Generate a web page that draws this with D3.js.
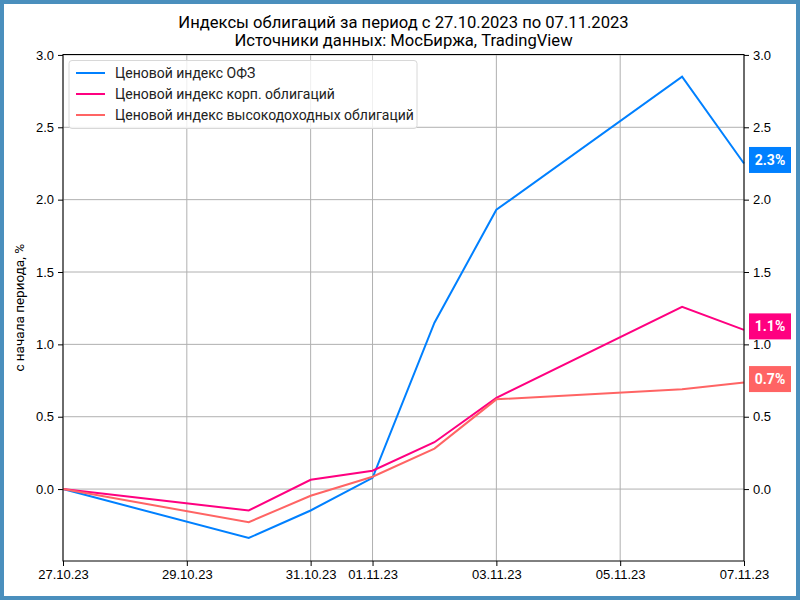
<!DOCTYPE html>
<html>
<head>
<meta charset="utf-8">
<script src="https://cdn.jsdelivr.net/npm/d3@7"></script>
<style>
  html, body { margin: 0; padding: 0; background: #fff; }
  svg { display: block; font-family: Roboto, "DejaVu Sans", sans-serif; }
</style>
</head>
<body>
<div id="chart"></div>
<script>
// trading days in the period
const dates = ["2023-10-27", "2023-10-30", "2023-10-31", "2023-11-01", "2023-11-02", "2023-11-03", "2023-11-06", "2023-11-07"]
const ofz = [0, -0.338, -0.148, 0.078, 1.15, 1.93, 2.85, 2.25]
const corp = [0, -0.148, 0.064, 0.127, 0.324, 0.63, 1.26, 1.10]
const highYield = [0, -0.229, -0.046, 0.085, 0.28, 0.62, 0.69, 0.736]
const seriesNames = ["Ценовой индекс ОФЗ", "Ценовой индекс корп. облигаций", "Ценовой индекс высокодоходных облигаций"]
const seriesColors = ["#0080ff", "#ff0080", "#ff6464"]
const xTicks = ["2023-10-27", "2023-10-29", "2023-10-31", "2023-11-01", "2023-11-03", "2023-11-05", "2023-11-07"]
const yTicks = [0, 0.5, 1.0, 1.5, 2.0, 2.5, 3.0]

const W = 800, H = 600
const margin = { top: 54.5, right: 56, bottom: 39, left: 63 }
const width = W - margin.left - margin.right
const height = H - margin.top - margin.bottom

const parse = d3.timeParse("%Y-%m-%d")
const fmt = d3.timeFormat("%d.%m.%y")

const svg = d3.select("#chart").append("svg")
    .attr("width", W)
    .attr("height", H)

svg.append("rect")
    .attr("x", 2).attr("y", 2)
    .attr("width", W - 4).attr("height", H - 4)
    .attr("fill", "#fff")
    .attr("stroke", "#4a8fbd")
    .attr("stroke-width", 4)

const g = svg.append("g").attr("transform", `translate(${margin.left},${margin.top})`)

const x = d3.scaleTime()
    .domain([parse(dates[0]), parse(dates[dates.length - 1])])
    .range([0, width])
const y = d3.scaleLinear()
    .domain([-0.497, 3.003])
    .range([height, 0])

// grid
g.append("g").selectAll("line").data(xTicks).enter().append("line")
    .attr("x1", d => x(parse(d))).attr("x2", d => x(parse(d)))
    .attr("y1", 0).attr("y2", height)
    .attr("stroke", "#b0b0b0").attr("stroke-width", 1)
g.append("g").selectAll("line").data(yTicks).enter().append("line")
    .attr("x1", 0).attr("x2", width)
    .attr("y1", d => y(d)).attr("y2", d => y(d))
    .attr("stroke", "#b0b0b0").attr("stroke-width", 1)

// axes
const styleAxis = sel => {
    sel.select(".domain").remove()
    sel.selectAll("text").attr("fill", "#000").style("font-size", "13px")
    sel.selectAll("line").attr("stroke", "#000")
}
g.append("g")
    .attr("transform", `translate(0,${height})`)
    .call(d3.axisBottom(x).tickValues(xTicks.map(parse)).tickFormat(fmt).tickSize(5).tickPadding(4))
    .call(styleAxis)
g.append("g")
    .call(d3.axisLeft(y).tickValues(yTicks).tickFormat(d3.format(".1f")).tickSize(5).tickPadding(4))
    .call(styleAxis)
g.append("g")
    .attr("transform", `translate(${width},0)`)
    .call(d3.axisRight(y).tickValues(yTicks).tickFormat(d3.format(".1f")).tickSize(5).tickPadding(4))
    .call(styleAxis)

// lines
const allSeries = [ofz, corp, highYield]
const line = d3.line()
    .x((d, i) => x(parse(dates[i])))
    .y(d => y(d))

g.append("g").selectAll("path").data(allSeries).enter().append("path")
    .attr("d", line)
    .attr("fill", "none")
    .attr("stroke", (d, i) => seriesColors[i])
    .attr("stroke-width", 2)

// frame
g.append("rect")
    .attr("width", width).attr("height", height)
    .attr("fill", "none").attr("stroke", "#000").attr("stroke-width", 1)

// last value labels
const labels = g.append("g").selectAll("g").data(allSeries).enter().append("g")
    .attr("transform", d => `translate(${width + 5},${y(d[d.length - 1]) - 3.5})`)
labels.append("rect")
    .attr("x", 0).attr("y", -13)
    .attr("width", 42).attr("height", 26)
    .attr("fill", (d, i) => seriesColors[i])
labels.append("text")
    .attr("x", 21).attr("y", 0).attr("dy", "0.35em")
    .attr("text-anchor", "middle")
    .attr("fill", "#fff")
    .attr("font-weight", "bold")
    .style("font-size", "14px")
    .text(d => d3.format(".1f")(d[d.length - 1]) + "%")

// legend
const legend = g.append("g").attr("transform", "translate(6,6)")
legend.append("rect")
    .attr("width", 348).attr("height", 68)
    .attr("rx", 3)
    .attr("fill", "#fff").attr("fill-opacity", 0.8)
    .attr("stroke", "#d8d8d8")
const items = legend.selectAll("g.item").data(seriesNames).enter().append("g")
    .attr("transform", (d, i) => `translate(0,${12.5 + i * 21})`)
items.append("line")
    .attr("x1", 7).attr("x2", 36)
    .attr("stroke", (d, i) => seriesColors[i]).attr("stroke-width", 2)
items.append("text")
    .attr("x", 46).attr("dy", "0.35em")
    .style("font-size", "14px")
    .attr("fill", "#222")
    .text(d => d)

// title
svg.append("text")
    .attr("x", margin.left + width / 2).attr("y", 28)
    .attr("text-anchor", "middle")
    .style("font-size", "16.6px")
    .text("Индексы облигаций за период с 27.10.2023 по 07.11.2023")
svg.append("text")
    .attr("x", margin.left + width / 2).attr("y", 46)
    .attr("text-anchor", "middle")
    .style("font-size", "16.6px")
    .text("Источники данных: МосБиржа, TradingView")

svg.append("text")
    .attr("transform", `translate(24,${margin.top + height / 2}) rotate(-90)`)
    .attr("text-anchor", "middle")
    .style("font-size", "13.5px")
    .text("с начала периода, %")
</script>
</body>
</html>
